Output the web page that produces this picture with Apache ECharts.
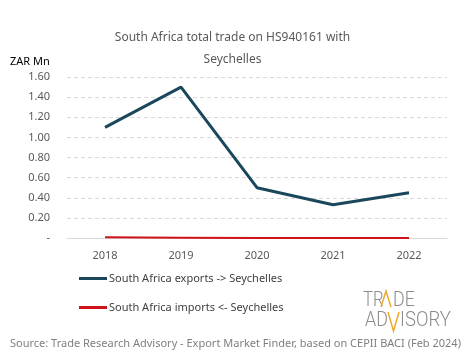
<!DOCTYPE html>
<html><head><meta charset="utf-8">
<script src="https://cdn.jsdelivr.net/npm/echarts@6/dist/echarts.min.js"></script>
<style>html,body{margin:0;padding:0;background:#fff}#c{width:465px;height:359px}</style>
</head><body><div id="c"></div>
<script>
const years = ['2018','2019','2020','2021','2022'];
const exportsZAR = [1.10, 1.50, 0.50, 0.33, 0.45];
const importsZAR = [0.008, 0.003, 0.0, 0.0, 0.0];
const yTicks = [0, 0.2, 0.4, 0.6, 0.8, 1.0, 1.2, 1.4, 1.6];
const seriesNames = ['South Africa exports -> Seychelles', 'South Africa imports <- Seychelles'];
const FONT = '"Noto Sans", sans-serif';
const LOGO = {fill: '#8c8c8c', fontSize: 21, fontFamily: 'Roboto', fontWeight: 300};
const chart = echarts.init(document.getElementById('c'));
chart.setOption({
  animation: false,
  textStyle: {fontFamily: FONT},
  title: {
    text: 'South Africa total trade on HS940161 with\nSeychelles',
    left: 'center', top: 22,
    textStyle: {fontSize: 12, fontWeight: 'normal', color: '#595959', lineHeight: 22, fontFamily: FONT}
  },
  grid: {left: 67, right: 18, top: 77, bottom: 121},
  legend: {
    orient: 'vertical', left: 74, top: 268, itemGap: 18,
    itemWidth: 28, itemHeight: 3, icon: 'rect',
    textStyle: {fontSize: 11, color: '#404040', fontFamily: FONT, padding: [0,0,0,-3]},
    data: seriesNames
  },
  xAxis: {
    type: 'category', data: years, boundaryGap: true,
    axisLine: {lineStyle: {color: '#d9d9d9'}},
    axisTick: {show: false},
    axisLabel: {color: '#595959', fontSize: 11, margin: 12}
  },
  yAxis: {
    type: 'value', min: 0, max: yTicks[yTicks.length-1], interval: 0.2,
    name: 'ZAR Mn', nameLocation: 'end', nameGap: 10,
    nameTextStyle: {color: '#000', fontSize: 11, align: 'left', padding: [0,0,0,-57]},
    axisLine: {show: false}, axisTick: {show: false},
    splitLine: {lineStyle: {color: '#d9d9d9', type: [4,3]}},
    axisLabel: {color: '#595959', fontSize: 11, margin: 17,
      formatter: v => v === 0 ? '-' : v.toFixed(2)}
  },
  series: [
    {name: seriesNames[0], type: 'line', data: exportsZAR, symbol: 'none',
     lineStyle: {width: 3, color: '#1b475c'}, itemStyle: {color: '#1b475c'}},
    {name: seriesNames[1], type: 'line', data: importsZAR, symbol: 'none',
     lineStyle: {width: 2, color: '#d0121b'}, itemStyle: {color: '#d0121b'}}
  ],
  graphic: [
    {type: 'text', left: 10, top: 338, style: {text: 'Source: Trade Research Advisory - Export Market Finder, based on CEPII BACI (Feb 2024)', fill: '#7f7f7f', fontSize: 11, fontFamily: FONT}},
    {type: 'text', x: 363, y: 290, scaleX: 0.8, style: Object.assign({text: 'TR'}, LOGO)},
    {type: 'text', x: 393, y: 290, scaleX: 0.85, style: Object.assign({text: 'DE'}, LOGO)},
    {type: 'text', x: 365, y: 310, scaleX: 0.85, style: Object.assign({text: 'AD'}, LOGO)},
    {type: 'text', x: 400, y: 310, scaleX: 0.88, style: Object.assign({text: 'ISORY'}, LOGO)},
    {type: 'polyline', shape: {points: [[381,307],[386,291],[391,307]]}, style: {stroke: '#f0a830', lineWidth: 1.5, fill: null}},
    {type: 'polyline', shape: {points: [[388,312],[393.5,331],[399,312]]}, style: {stroke: '#f0a830', lineWidth: 1.5, fill: null}}
  ]
});
</script></body></html>
